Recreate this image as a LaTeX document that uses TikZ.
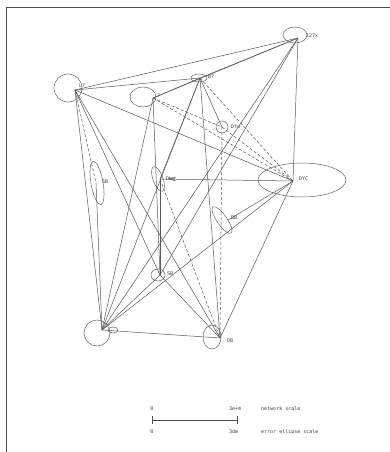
\documentclass[tikz,border=0pt]{standalone}
\usepackage{fontspec}
\setmonofont{DejaVu Sans Mono}
\usetikzlibrary{calc}
\begin{document}
\begin{tikzpicture}[x=1pt,y=-1pt,
  lk/.style={draw=black!65,line width=0.5pt},
  dk/.style={lk,dashed,dash pattern=on 3pt off 2pt},
  ell/.style={draw=black!60,line width=0.5pt},
  lab/.style={font=\ttfamily\fontsize{5}{6}\selectfont,text=black!75,inner sep=1pt,anchor=west}]
\useasboundingbox (0,0) rectangle (390,452);
\fill[white] (0,0) rectangle (390,452);
\draw[black!70,line width=0.8pt] (6,452) -- (6,7) -- (390,7);
% nodes
\coordinate (n1) at (75,90);
\coordinate (n2) at (153,98);
\coordinate (n3) at (200,78);
\coordinate (n4) at (298,38);
\coordinate (n5) at (222,127);
\coordinate (n6) at (293,181);
\coordinate (n7) at (160,179);
\coordinate (n8) at (96,183);
\coordinate (n9) at (228,220);
\coordinate (n10) at (160,275);
\coordinate (n11) at (102,330);
\coordinate (n12) at (220,338);
% error ellipses
\draw[ell] (68,88) circle (14);
\draw[ell] (143,97) ellipse (13 and 10);
\draw[ell] (199,78) ellipse (8 and 4);
\draw[ell] (295,35) ellipse (12 and 8);
\draw[ell] (222,127) ellipse (6 and 6);
\draw[ell] (302,180) ellipse (44 and 17);
\draw[ell,rotate around={-70:(158,179)}] (158,179) ellipse (13 and 5);
\draw[ell,rotate around={-80:(97,183)}] (97,183) ellipse (22 and 6);
\draw[ell,rotate around={-55:(222,220)}] (222,220) ellipse (16 and 5);
\draw[ell] (158,275) ellipse (7 and 6);
\draw[ell] (97,333) circle (13);
\draw[ell] (113,330) ellipse (5 and 3);
\draw[ell] (212,337) ellipse (9 and 12);
% labels
\node[lab] (l1) at (78,86) {L?};
\node[lab] (l2) at (156,96) {?};
\node[lab] (l3) at (207,77) {B?};
\node[lab] (l4) at (305,36) {127x};
\node[lab] (l5) at (230,127) {Dfw};
\node[lab] (l6) at (298,179) {DYC};
\node[lab] (l7) at (165,179) {Dhw};
\node[lab] (l8) at (101,182) {SB};
\node[lab] (l9) at (230,218) {BB};
\node[lab] (l10) at (166,274) {SB};
\node[lab] (l12) at (226,341) {DB};
% solid links
\foreach \a/\b in {n1/n4,n1/n3,n1/n6,n1/n12,n1/n10,n1/n11,n2/n4,n2/n3,n2/n10,n2/n11,
  n3/n4,n3/n5,n3/n7,n3/n11,n3/n12,n4/n6,n4/n10,n4/n11,n6/n7,n6/n9,n6/n11,n6/n12,
  n7/n10,n8/n11,n10/n11,n10/n12,n11/n12}
  \draw[lk] (\a) -- (\b);
% dashed links
\foreach \a/\b in {n2/n5,n2/n6,n5/n6,n5/n12,n7/n12,n1/n8,n3/n6}
  \draw[dk] (\a) -- (\b);
\draw[lk] ($(n7)+(16,-2)$) -- ($(n7)+(9,0)$) -- ($(n7)+(16,2)$);
% scale bar
\coordinate (s0) at (152,420);
\coordinate (s1) at (237,420);
\draw[black!70,line width=0.6pt] (s0) -- (s1);
\draw[black!70,line width=0.6pt] ($(s0)+(0,-4)$) -- ($(s0)+(0,4)$) ($(s1)+(0,-4)$) -- ($(s1)+(0,4)$);
\node[lab,anchor=center] (z0) at (152,409) {0};
\node[lab,anchor=center] (z1) at (152,432) {0};
\node[lab] (t1) at (228,409) {3e+m};
\node[lab] (t2) at (228,432) {3dm};
\node[lab] (t3) at (260,409) {network scale};
\node[lab] (t4) at (260,432) {error ellipse scale};
\end{tikzpicture}
\end{document}
